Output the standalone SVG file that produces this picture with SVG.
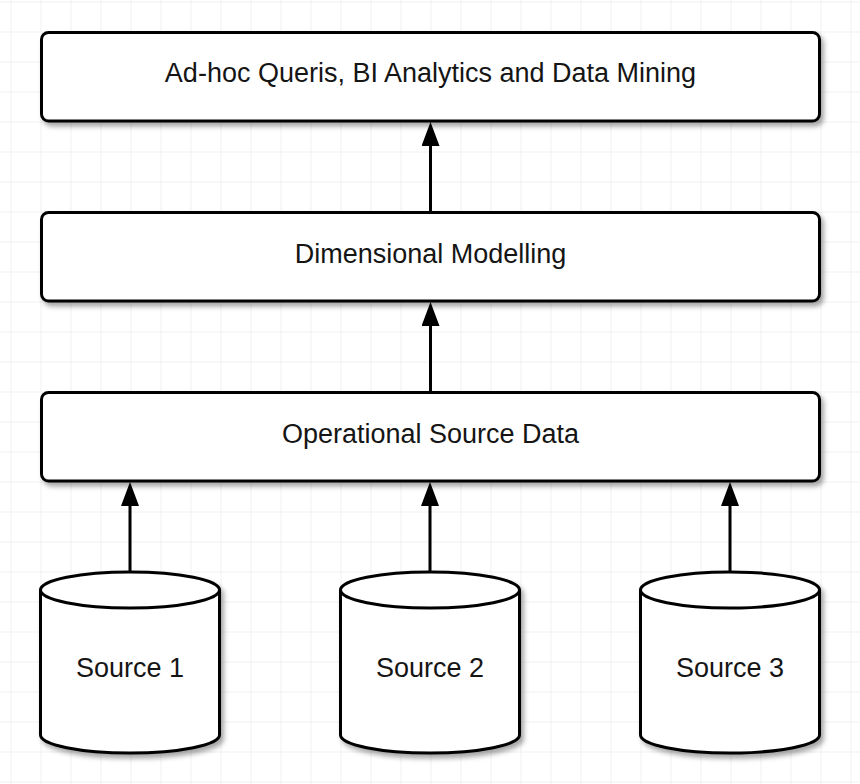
<svg xmlns="http://www.w3.org/2000/svg" width="860" height="784" viewBox="0 0 860 784">
  <defs>
    <pattern id="grid" x="10.5" y="1.5" width="30" height="30" patternUnits="userSpaceOnUse">
      <path d="M0,0 H30 M0,0 V30" fill="none" stroke="#e3e3e3" stroke-width="1"/>
    </pattern>
    <filter id="shadow" x="-10%" y="-20%" width="130%" height="150%">
      <feDropShadow dx="3" dy="4" stdDeviation="2.5" flood-color="#000" flood-opacity="0.35"/>
    </filter>
    <marker id="arrow" viewBox="0 0 24 18" markerWidth="24" markerHeight="18" markerUnits="userSpaceOnUse" refX="2" refY="9" orient="auto">
      <path d="M0,0 L24,9 L0,18 Z" fill="#000"/>
    </marker>
  </defs>
  <style>
    .box { fill: #fff; stroke: #000; stroke-width: 3; filter: url(#shadow); }
    .cyl { fill: #fff; stroke: #000; stroke-width: 3; stroke-linejoin: round; }
    .lbl { font-family: "Liberation Sans", Arial, sans-serif; font-size: 27px; fill: #151515; text-anchor: middle; }
    .conn { stroke: #000; stroke-width: 3; fill: none; marker-end: url(#arrow); }
  </style>
  <rect x="0" y="0" width="860" height="784" fill="#fff"/>
  <rect x="0" y="0" width="860" height="784" fill="url(#grid)"/>

  <g id="connectors">
    <line class="conn" x1="430.5" y1="212" x2="430.5" y2="144"/>
    <line class="conn" x1="430.5" y1="392" x2="430.5" y2="324"/>
    <line class="conn" x1="130" y1="572" x2="130" y2="504"/>
    <line class="conn" x1="430" y1="572" x2="430" y2="504"/>
    <line class="conn" x1="730" y1="572" x2="730" y2="504"/>
  </g>

  <g id="analytics">
    <rect class="box" x="41.5" y="32.5" width="778" height="88.5" rx="7"/>
    <text class="lbl" x="430.5" y="82">Ad-hoc Queris, BI Analytics and Data Mining</text>
  </g>
  <g id="dimensional">
    <rect class="box" x="41.5" y="212.5" width="778" height="88.5" rx="7"/>
    <text class="lbl" x="430.5" y="263">Dimensional Modelling</text>
  </g>
  <g id="operational">
    <rect class="box" x="41.5" y="392.5" width="778" height="88.5" rx="7"/>
    <text class="lbl" x="430.5" y="443">Operational Source Data</text>
  </g>

  <g id="source1">
    <g filter="url(#shadow)">
      <path class="cyl" d="M40.5,590 A89.5,18 0 0 1 219.5,590 L219.5,735 A89.5,18 0 0 1 40.5,735 Z"/>
      <path class="cyl" fill="none" d="M40.5,590 A89.5,18 0 0 0 219.5,590"/>
    </g>
    <text class="lbl" x="130" y="677">Source 1</text>
  </g>
  <g id="source2">
    <g filter="url(#shadow)">
      <path class="cyl" d="M340.5,590 A89.5,18 0 0 1 519.5,590 L519.5,735 A89.5,18 0 0 1 340.5,735 Z"/>
      <path class="cyl" fill="none" d="M340.5,590 A89.5,18 0 0 0 519.5,590"/>
    </g>
    <text class="lbl" x="430" y="677">Source 2</text>
  </g>
  <g id="source3">
    <g filter="url(#shadow)">
      <path class="cyl" d="M640.5,590 A89.5,18 0 0 1 819.5,590 L819.5,735 A89.5,18 0 0 1 640.5,735 Z"/>
      <path class="cyl" fill="none" d="M640.5,590 A89.5,18 0 0 0 819.5,590"/>
    </g>
    <text class="lbl" x="730" y="677">Source 3</text>
  </g>
</svg>
